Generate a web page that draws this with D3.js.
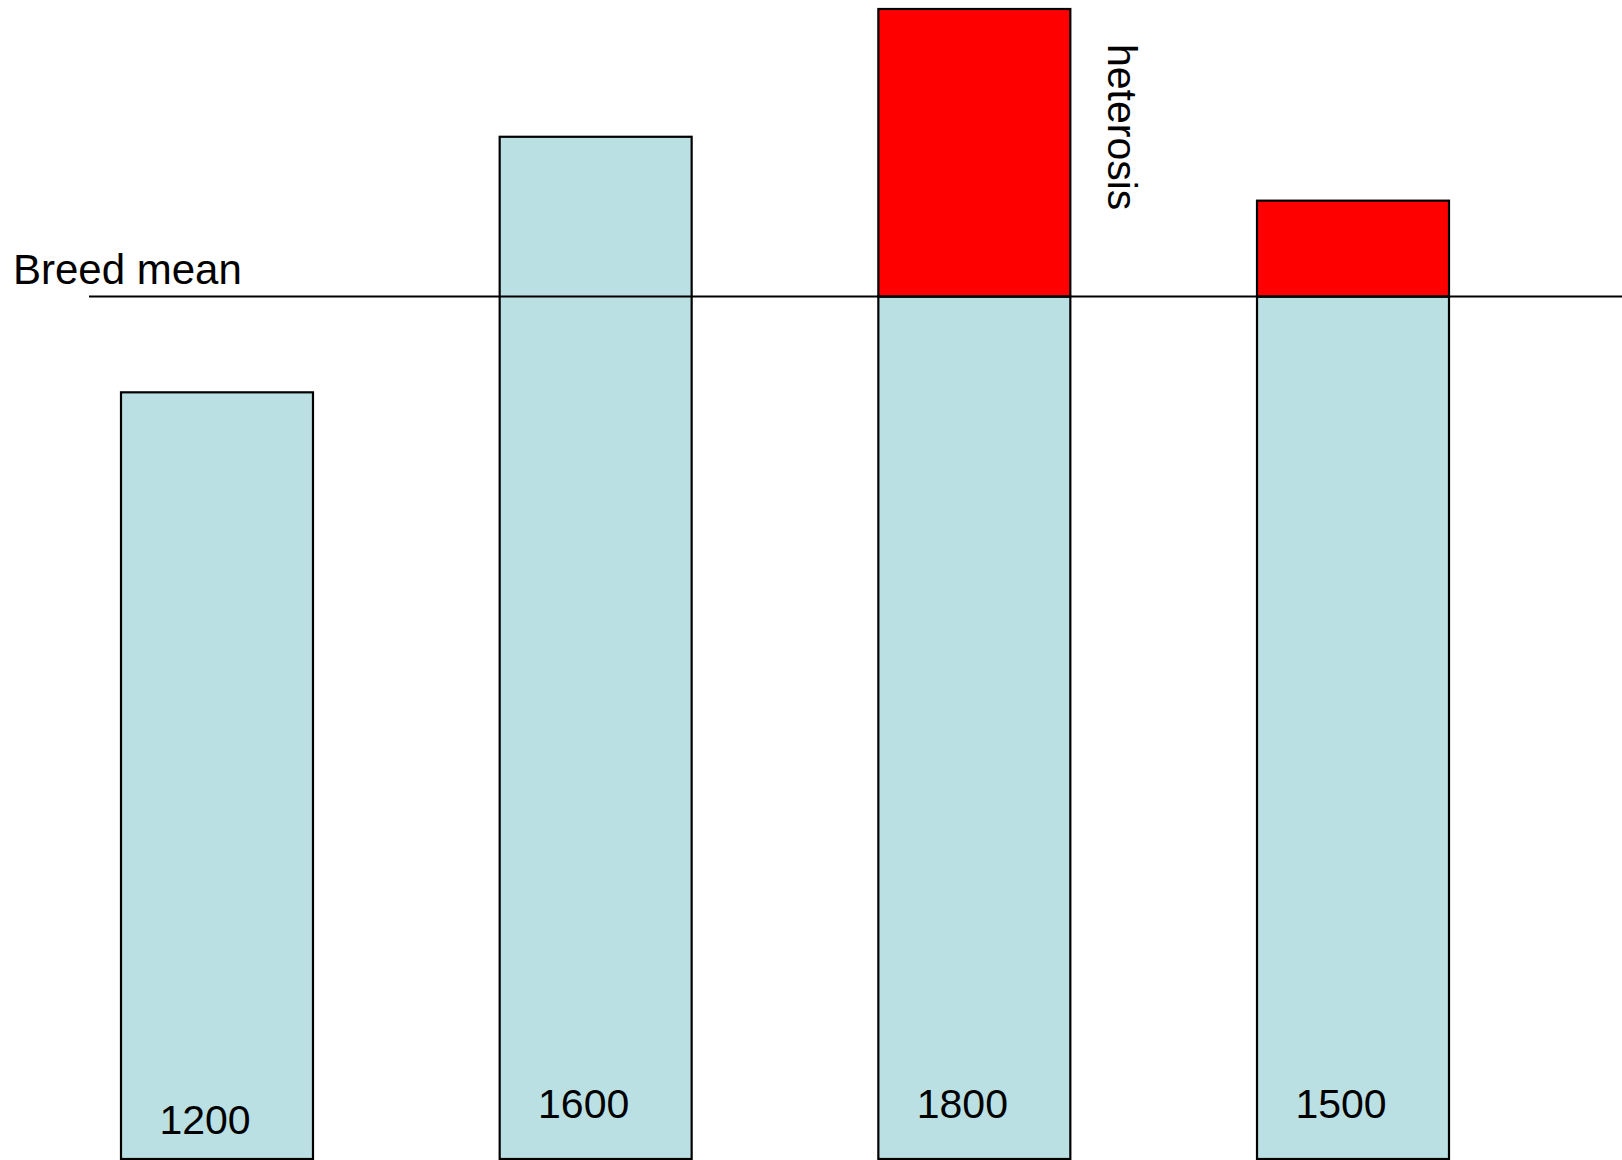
<!DOCTYPE html>
<html>
<head>
<meta charset="utf-8">
<script src="https://cdn.jsdelivr.net/npm/d3@7"></script>
<style>
  html, body { margin: 0; padding: 0; background: #fff; }
  svg { display: block; }
  text { font-family: "Liberation Sans", Arial, sans-serif; fill: #000; }
</style>
</head>
<body>
<svg id="chart" width="1622" height="1160"></svg>
<script>
// Data
const categories = ["Breed A", "Breed B", "Cross 1", "Cross 2"];
const totals = [1200, 1600, 1800, 1500];
const valueLabels = ["1200", "1600", "1800", "1500"];
const isCross = [false, false, true, true];
const breedMean = 1350;
const meanLabel = "Breed mean";
const heterosisLabel = "heterosis";

const svg = d3.select("#chart");
const W = 1622, H = 1160;

const x = d3.scaleBand()
  .domain(categories)
  .range([121, 1449])
  .paddingInner(0.493)
  .paddingOuter(0);

const y = d3.scaleLinear()
  .domain([0, 1800])
  .range([1159, 9]);

const rows = categories.map((c, i) => ({
  cat: c,
  total: totals[i],
  base: isCross[i] ? breedMean : totals[i],
  cross: isCross[i],
  label: valueLabels[i],
  i
}));

const g = svg.append("g");

// base (blue) parts
g.selectAll("rect.base")
  .data(rows)
  .join("rect")
  .attr("class", "base")
  .attr("x", d => x(d.cat))
  .attr("y", d => y(d.base))
  .attr("width", x.bandwidth())
  .attr("height", d => y(0) - y(d.base))
  .attr("fill", "#BBE0E3")
  .attr("stroke", "#000")
  .attr("stroke-width", 2.2);

// heterosis (red) parts
g.selectAll("rect.het")
  .data(rows.filter(d => d.cross))
  .join("rect")
  .attr("class", "het")
  .attr("x", d => x(d.cat))
  .attr("y", d => y(d.total))
  .attr("width", x.bandwidth())
  .attr("height", d => y(breedMean) - y(d.total))
  .attr("fill", "#FF0000")
  .attr("stroke", "#000")
  .attr("stroke-width", 2.2);

// breed mean line
svg.append("line")
  .attr("x1", 89)
  .attr("x2", W)
  .attr("y1", y(breedMean))
  .attr("y2", y(breedMean))
  .attr("stroke", "#000")
  .attr("stroke-width", 2);

svg.append("text")
  .attr("x", 13)
  .attr("y", y(breedMean) - 13)
  .attr("font-size", 42)
  .text(meanLabel);

// value labels inside bars
g.selectAll("text.val")
  .data(rows)
  .join("text")
  .attr("class", "val")
  .attr("x", d => x(d.cat) + x.bandwidth() / 2 - 12)
  .attr("y", d => y(0) - (d.i === 0 ? 25 : 41))
  .attr("text-anchor", "middle")
  .attr("font-size", 41)
  .text(d => d.label);

// heterosis label (rotated)
const crossRow = rows.find(d => d.cross);
const hx = x(crossRow.cat) + x.bandwidth() + 38;
const hy = 44;
svg.append("text")
  .attr("transform", `translate(${hx},${hy}) rotate(90)`)
  .attr("font-size", 41)
  .text(heterosisLabel);
</script>
</body>
</html>
